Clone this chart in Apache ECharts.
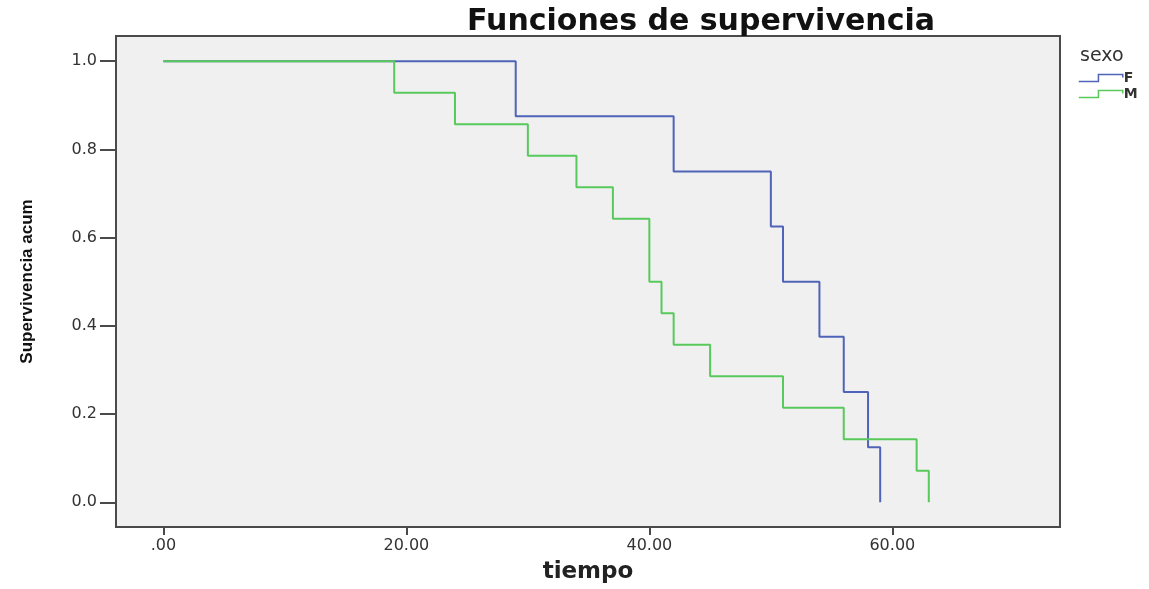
<!DOCTYPE html>
<html>
<head>
<meta charset="utf-8">
<script src="https://cdn.jsdelivr.net/npm/echarts@6/dist/echarts.min.js"></script>
<style>html,body{margin:0;padding:0;background:#fff;}#c{width:1149px;height:589px;}</style>
</head>
<body>
<div id="c"></div>
<script>
// Kaplan-Meier step data (time, cumulative survival)
const fTimes = [0, 29, 42, 50, 51, 54, 56, 58, 59];
const fSurv  = [1, 0.875, 0.75, 0.625, 0.5, 0.375, 0.25, 0.125, 0];
const mTimes = [0, 19, 24, 30, 34, 37, 40, 41, 42, 45, 51, 56, 62, 63];
const mSurv  = [1, 13/14, 12/14, 11/14, 10/14, 9/14, 7/14, 6/14, 5/14, 4/14, 3/14, 2/14, 1/14, 0];
const xTicks = [0, 20, 40, 60];
const yTicks = [0, 0.2, 0.4, 0.6, 0.8, 1.0];
const groupNames = ['F', 'M'];

const fData = fTimes.map((t, i) => [t, fSurv[i]]);
const mData = mTimes.map((t, i) => [t, mSurv[i]]);

const blue = '#4f63b8', green = '#58c95b';
const chart = echarts.init(document.getElementById('c'), null, {renderer: 'canvas'});
const stepIcon = 'path://M0,7 L17,7 L17,0 L38,0 L38,3';
chart.setOption({
  animation: false,
  backgroundColor: '#ffffff',
  title: [
    {text: 'Funciones de supervivencia', left: 696, top: 2, textAlign: 'center',
     textStyle: {fontFamily: 'DejaVu Sans', fontWeight: 'bold', fontSize: 30, color: '#111'}},
    {text: 'sexo', left: 1075, top: 42,
     textStyle: {fontFamily: 'DejaVu Sans', fontWeight: 'normal', fontSize: 19, color: '#333'}}
  ],
  legend: {
    orient: 'vertical', left: 1073, top: 66,
    itemWidth: 44, itemHeight: 7, itemGap: 2,
    symbolKeepAspect: false,
    textStyle: {fontFamily: 'DejaVu Sans', fontWeight: 'bold', fontSize: 14, color: '#333', padding: [0,0,0,-4]},
    data: [
      {name: groupNames[0], icon: stepIcon, itemStyle: {color: 'rgba(0,0,0,0)', borderColor: blue, borderWidth: 1.5}},
      {name: groupNames[1], icon: stepIcon, itemStyle: {color: 'rgba(0,0,0,0)', borderColor: green, borderWidth: 1.5}}
    ]
  },
  grid: {
    left: 116, top: 36, right: 89, bottom: 58,
    show: true, backgroundColor: '#f0f0f0', borderColor: '#4a4a4a', borderWidth: 2
  },
  xAxis: {
    type: 'value', min: -3.9, max: 73.8,
    name: 'tiempo', nameLocation: 'middle', nameGap: 34,
    nameTextStyle: {fontFamily: 'DejaVu Sans', fontWeight: 'bold', fontSize: 23, color: '#222'},
    splitLine: {show: false},
    axisLine: {show: true, onZero: false, lineStyle: {color: '#4a4a4a', width: 2}},
    axisTick: {show: true, length: 8, customValues: xTicks, lineStyle: {color: '#4a4a4a', width: 2}},
    axisLabel: {customValues: xTicks, margin: 11,
      fontFamily: 'DejaVu Sans', fontSize: 16, color: '#333',
      formatter: v => v === 0 ? '.00' : v.toFixed(2)}
  },
  yAxis: {
    type: 'value', min: -0.056, max: 1.057,
    name: 'Supervivencia acum', nameLocation: 'middle', nameGap: 80, nameRotate: 90,
    nameTextStyle: {fontFamily: 'Liberation Sans', fontWeight: 'bold', fontSize: 17, color: '#111'},
    splitLine: {show: false},
    axisLine: {show: true, onZero: false, lineStyle: {color: '#4a4a4a', width: 2}},
    axisTick: {show: true, length: 16, customValues: yTicks, lineStyle: {color: '#4a4a4a', width: 2}},
    axisLabel: {customValues: yTicks, margin: 19,
      fontFamily: 'DejaVu Sans', fontSize: 16, color: '#333',
      formatter: v => v.toFixed(1)}
  },
  series: [
    {name: groupNames[0], type: 'line', step: 'end', data: fData, showSymbol: false, symbol: 'none',
     color: blue, lineStyle: {color: blue, width: 2}, z: 2},
    {name: groupNames[1], type: 'line', step: 'end', data: mData, showSymbol: false, symbol: 'none',
     color: green, lineStyle: {color: green, width: 2}, z: 3}
  ]
});
</script>
</body>
</html>
